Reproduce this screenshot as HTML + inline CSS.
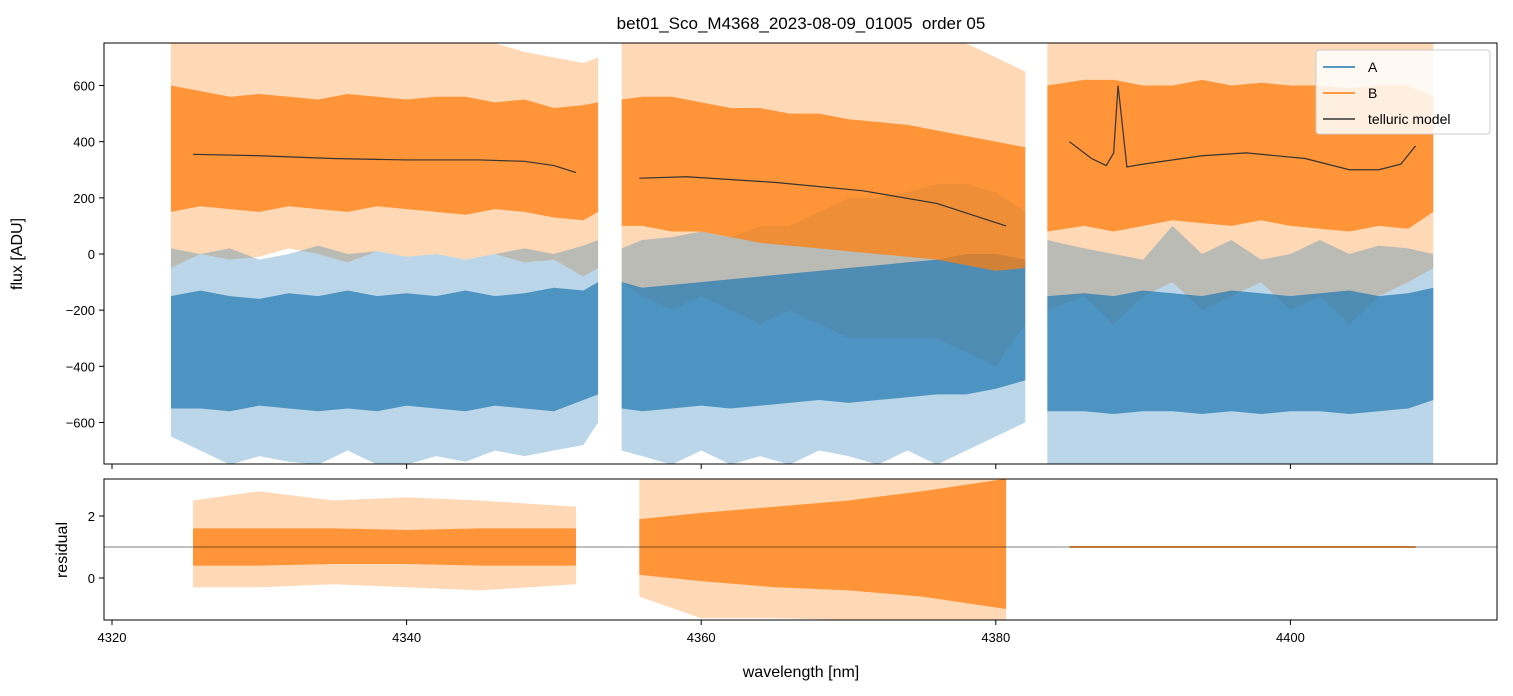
<!DOCTYPE html>
<html><head><meta charset="utf-8"><style>
body{margin:0;background:#fff;}
svg{display:block;font-family:"Liberation Sans","DejaVu Sans",sans-serif;}
</style></head><body>
<svg id="chart" width="1513" height="696">
<defs>
<clipPath id="c1"><rect x="104" y="43" width="1393" height="421"/></clipPath>
<clipPath id="c2"><rect x="104" y="479" width="1393" height="141"/></clipPath>
</defs>
<text x="801" y="29" text-anchor="middle" font-size="17">bet01_Sco_M4368_2023-08-09_01005 &#160;order 05</text>
<g id="gtop" clip-path="url(#c1)"></g>
<g id="gbot" clip-path="url(#c2)"></g>
<rect x="104" y="43" width="1393" height="421" fill="none" stroke="#000" stroke-width="1"/>
<rect x="104" y="479" width="1393" height="141" fill="none" stroke="#000" stroke-width="1"/>
<g id="gaxes"></g>
<text x="22" y="254" transform="rotate(-90 22 254)" text-anchor="middle" font-size="16">flux [ADU]</text>
<text x="67" y="550" transform="rotate(-90 67 550)" text-anchor="middle" font-size="16">residual</text>
<text x="801" y="677" text-anchor="middle" font-size="16">wavelength [nm]</text>
<g>
<rect x="1316" y="50" width="174" height="84" rx="3" fill="#fff" fill-opacity="0.85" stroke="#ccc"/>
<line x1="1323" y1="67" x2="1355" y2="67" stroke="#1f77b4" stroke-width="1.5"/>
<text x="1368" y="72" font-size="14">A</text>
<line x1="1323" y1="93" x2="1355" y2="93" stroke="#ff7f0e" stroke-width="1.5"/>
<text x="1368" y="98" font-size="14">B</text>
<line x1="1323" y1="119" x2="1355" y2="119" stroke="#333" stroke-width="1.5"/>
<text x="1368" y="124" font-size="14">telluric model</text>
</g>
</svg>
<script>
const xTicks=[4320,4340,4360,4380,4400];
const yTicksTop=[-600,-400,-200,0,200,400,600];
const yTicksBot=[0,2];
const seg1X=[4324,4326,4328,4330,4332,4334,4336,4338,4340,4342,4344,4346,4348,4350,4352,4353];
const seg2X=[4354.6,4356,4358,4360,4362,4364,4366,4368,4370,4372,4374,4376,4378,4380,4382];
const seg3X=[4383.5,4386,4388,4390,4392,4394,4396,4398,4400,4402,4404,4406,4408,4409.7];
const A1coreLo=[-550,-550,-560,-540,-550,-560,-550,-560,-540,-550,-560,-540,-550,-560,-520,-500];
const A1coreHi=[-150,-130,-150,-160,-140,-150,-130,-150,-140,-150,-130,-150,-140,-120,-130,-100];
const A1extLo=[-650,-700,-750,-720,-740,-750,-700,-750,-750,-720,-740,-700,-720,-700,-680,-600];
const A1extHi=[20,0,20,-20,0,30,0,10,-10,0,-20,0,20,0,30,50];
const A2coreLo=[-550,-560,-550,-540,-550,-540,-530,-520,-530,-520,-510,-500,-500,-480,-450];
const A2coreHi=[-100,-120,-110,-100,-90,-80,-70,-60,-50,-40,-30,-20,0,0,-20];
const A2extLo=[-700,-720,-750,-700,-750,-720,-750,-700,-720,-750,-700,-750,-700,-650,-600];
const A2extHi=[20,50,60,80,60,100,100,150,200,200,220,250,250,220,150];
const A3coreLo=[-560,-560,-570,-560,-560,-570,-560,-570,-560,-560,-570,-560,-550,-520];
const A3coreHi=[-150,-140,-150,-130,-140,-150,-130,-140,-150,-140,-130,-150,-140,-120];
const A3extLo=[-750,-750,-750,-750,-750,-750,-750,-750,-750,-750,-750,-750,-750,-750];
const A3extHi=[50,20,0,-20,100,0,50,-20,0,50,0,30,20,0];
const B1coreLo=[150,170,160,150,170,160,150,170,160,150,140,160,150,130,120,150];
const B1coreHi=[600,580,560,570,560,550,570,560,550,560,560,540,550,520,530,540];
const B1extLo=[-50,0,-20,-10,20,0,-30,10,-10,0,-20,0,-30,-20,-80,-50];
const B1extHi=[750,750,750,750,750,750,750,750,750,750,750,750,720,700,680,700];
const B2coreLo=[100,100,80,80,60,40,30,20,10,0,-10,-20,-40,-60,-50];
const B2coreHi=[550,560,560,540,520,520,500,500,480,470,460,440,420,400,380];
const B2extLo=[-100,-150,-200,-150,-200,-250,-200,-250,-300,-300,-300,-300,-350,-400,-250];
const B2extHi=[750,750,750,750,750,750,750,750,750,750,750,750,750,700,650];
const B3coreLo=[80,100,80,100,120,110,100,120,100,90,80,100,90,150];
const B3coreHi=[600,620,620,600,600,620,600,610,600,600,590,600,600,560];
const B3extLo=[-200,-150,-250,-150,-100,-200,-150,-100,-200,-150,-250,-150,-100,-50];
const B3extHi=[750,750,750,750,750,750,750,750,750,750,750,750,750,750];
const T1X=[4325.5,4330,4335,4340,4345,4348,4350,4351.5];
const T1Y=[355,350,340,335,335,330,315,290];
const T2X=[4355.8,4359,4365,4371,4376,4380.7];
const T2Y=[270,275,255,225,180,100];
const T3X=[4385,4386.5,4387.5,4388,4388.3,4388.9,4390,4394,4397,4401,4404,4406,4407.5,4408.5];
const T3Y=[400,340,315,360,600,310,320,350,360,340,300,300,320,385];
const R1X=[4325.5,4330,4335,4340,4345,4351.5];
const R1coreLo=[0.4,0.4,0.45,0.45,0.4,0.4];
const R1coreHi=[1.6,1.6,1.6,1.55,1.6,1.6];
const R1extLo=[-0.3,-0.3,-0.2,-0.3,-0.4,-0.2];
const R1extHi=[2.5,2.8,2.5,2.6,2.5,2.3];
const R2X=[4355.8,4360,4365,4370,4375,4380.7];
const R2coreLo=[0.1,-0.1,-0.3,-0.4,-0.6,-1.0];
const R2coreHi=[1.9,2.1,2.3,2.5,2.8,3.2];
const R2extLo=[-0.6,-1.3,-1.3,-1.35,-1.35,-1.35];
const R2extHi=[3.2,3.2,3.2,3.2,3.2,3.2];
const R3X=[4385,4408.5];
const R3Lo=[0.97,0.97];
const R3Hi=[1.03,1.03];

{
const NS="http://www.w3.org/2000/svg";
const xs=w=>112+(w-4320)*14.73;
const yt=v=>254-v*0.2808;
const yb=v=>578-v*31;
function mk(tag,attrs,parent){const e=document.createElementNS(NS,tag);for(const k in attrs)e.setAttribute(k,attrs[k]);parent.appendChild(e);return e;}
function band(g,X,lo,hi,ys,color,op,name){
  let pts=X.map((x,i)=>xs(x)+","+ys(hi[i]));
  for(let i=X.length-1;i>=0;i--)pts.push(xs(X[i])+","+ys(lo[i]));
  const p=mk("polygon",{points:pts.join(" "),fill:color,"fill-opacity":op},g);
  
  
}
function line(g,X,Y,ys,color,w,name){
  const p=mk("polyline",{points:X.map((x,i)=>xs(x)+","+ys(Y[i])).join(" "),fill:"none",stroke:color,"stroke-width":w},g);
  
  
}
const gTop=document.getElementById("gtop"),gBot=document.getElementById("gbot"),gAx=document.getElementById("gaxes");
const CA="#1f77b4",CB="#ff7f0e";
const Aset=[[seg1X,A1coreLo,A1coreHi,A1extLo,A1extHi],[seg2X,A2coreLo,A2coreHi,A2extLo,A2extHi],[seg3X,A3coreLo,A3coreHi,A3extLo,A3extHi]];
const Bset=[[seg1X,B1coreLo,B1coreHi,B1extLo,B1extHi],[seg2X,B2coreLo,B2coreHi,B2extLo,B2extHi],[seg3X,B3coreLo,B3coreHi,B3extLo,B3extHi]];
Bset.forEach((s,i)=>band(gTop,s[0],s[3],s[4],yt,CB,0.3,"series-b-spikes-"+(i+1)));
Aset.forEach((s,i)=>band(gTop,s[0],s[3],s[4],yt,CA,0.3,"series-a-spikes-"+(i+1)));
Aset.forEach((s,i)=>band(gTop,s[0],s[1],s[2],yt,CA,0.7,"series-a-"+(i+1)));
Bset.forEach((s,i)=>band(gTop,s[0],s[1],s[2],yt,CB,0.75,"series-b-"+(i+1)));
line(gTop,T1X,T1Y,yt,"#333",1.2,"telluric-model-1");
line(gTop,T2X,T2Y,yt,"#333",1.2,"telluric-model-2");
line(gTop,T3X,T3Y,yt,"#333",1.2,"telluric-model-3");
band(gBot,R1X,R1extLo,R1extHi,yb,CB,0.3,"residual-spikes-1");
band(gBot,R1X,R1coreLo,R1coreHi,yb,CB,0.75,"residual-1");
band(gBot,R2X,R2extLo,R2extHi,yb,CB,0.3,"residual-spikes-2");
band(gBot,R2X,R2coreLo,R2coreHi,yb,CB,0.75,"residual-2");
band(gBot,R3X,R3Lo,R3Hi,yb,CB,0.9,"residual-3");
const ref=mk("line",{x1:104,x2:1497,y1:yb(1),y2:yb(1),stroke:"#000","stroke-width":0.5},gBot);


xTicks.forEach(t=>{
  const x=xs(t);
  const a=mk("line",{x1:x,x2:x,y1:464,y2:469,stroke:"#000"},gAx);
  
  
  const b=mk("line",{x1:x,x2:x,y1:620,y2:625,stroke:"#000"},gAx);
  
  
  const l=mk("text",{x:x,y:642,"text-anchor":"middle","font-size":13},gAx);l.textContent=t;
  
  
});
yTicksTop.forEach(t=>{
  const y=yt(t);
  const a=mk("line",{x1:99,x2:104,y1:y,y2:y,stroke:"#000"},gAx);
  
  
  const l=mk("text",{x:95,y:y+5,"text-anchor":"end","font-size":13},gAx);l.textContent=t<0?"\u2212"+(-t):t;
  
  
});
yTicksBot.forEach(t=>{
  const y=yb(t);
  const a=mk("line",{x1:99,x2:104,y1:y,y2:y,stroke:"#000"},gAx);
  
  
  const l=mk("text",{x:95,y:y+5,"text-anchor":"end","font-size":13},gAx);l.textContent=t;
  
  
});
}
</script>
</body></html>
